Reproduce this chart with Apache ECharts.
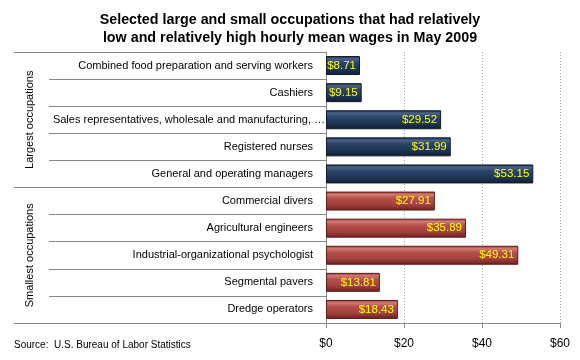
<!DOCTYPE html>
<html><head><meta charset="utf-8">
<script src="https://cdn.jsdelivr.net/npm/echarts@6/dist/echarts.min.js"></script>
<style>html,body{margin:0;padding:0;background:#fff}#c{width:580px;height:360px}</style>
</head><body><div id="c"></div>
<script>
const titleText = 'Selected large and small occupations that had relatively\nlow and relatively high hourly mean wages in May 2009';
const categories = ['Combined food preparation and serving workers','Cashiers','Sales representatives, wholesale and manufacturing, \u2026','Registered nurses','General and operating managers','Commercial divers','Agricultural engineers','Industrial-organizational psychologist','Segmental pavers','Dredge operators'];
const wages = [8.71, 9.15, 29.52, 31.99, 53.15, 27.91, 35.89, 49.31, 13.81, 18.43];
const groups = ['Largest occupations','Smallest occupations'];
const groupOf = [0,0,0,0,0,1,1,1,1,1];
const xTicks = [0, 20, 40, 60];
const sourceText = 'Source:  U.S. Bureau of Labor Statistics';

const FONT = 'Liberation Sans';
const grad = (s) => new echarts.graphic.LinearGradient(0,0,0,1,s.map((c,i)=>({offset:[0,0.15,0.35,0.7,1][i],color:c})));
const styles = [
  {color: grad(['#1a2b45','#4a6387','#2a4468','#1e3555','#101c30']), borderColor:'#0f1a2c'},
  {color: grad(['#8c3330','#d27a75','#b5504b','#a2403c','#6a1f1d']), borderColor:'#5e1c1a'}
];

const chart = echarts.init(document.getElementById('c'));
chart.setOption({
  animation:false,
  title:{text:titleText,left:'center',top:6,textStyle:{fontFamily:FONT,fontSize:14.3,fontWeight:'bold',color:'#000',lineHeight:18}},
  graphic:[{type:'text',left:14,top:340,style:{text:sourceText,font:'10px '+FONT,fill:'#000'}}],
  grid:{left:326,right:20,top:52,bottom:37},
  xAxis:{type:'value',min:0,max:60,interval:20,
    axisLine:{show:true,lineStyle:{color:'#888'}},
    axisTick:{show:true,length:5,lineStyle:{color:'#888'}},
    axisLabel:{formatter:v=>'$'+v,fontFamily:FONT,fontSize:12,color:'#000',margin:15},
    splitLine:{show:true,lineStyle:{color:'#aaa',type:[1,2]}}},
  yAxis:[
    {type:'category',data:categories,inverse:true,
      axisLine:{show:true,lineStyle:{color:'#888'}},
      axisTick:{show:true,length:277,interval:0,lineStyle:{color:'#888'}},
      axisLabel:{interval:0,fontFamily:FONT,fontSize:11,color:'#000',margin:13,
        formatter:(v,i)=>i===2?'{s|'+v+'}':v, rich:{s:{fontFamily:FONT,fontSize:11,color:'#000',padding:[0,-12,0,0]}}}},
    {type:'category',data:groups,inverse:true,position:'left',
      axisLine:{show:false},
      axisTick:{show:true,length:312,interval:0,lineStyle:{color:'#888'}},
      axisLabel:{interval:0,rotate:90,fontFamily:FONT,fontSize:11,color:'#000',margin:296,align:'center',verticalAlign:'middle'}}
  ],
  series:[{type:'bar',yAxisIndex:0,barWidth:19,
    data:wages.map((v,i)=>({value:v,itemStyle:styles[groupOf[i]]})),
    itemStyle:{borderWidth:1},
    label:{show:true,position:'insideRight',distance:4,formatter:p=>'$'+p.value.toFixed(2),color:'#ffff00',fontFamily:FONT,fontSize:11.5}}]
});
</script></body></html>
